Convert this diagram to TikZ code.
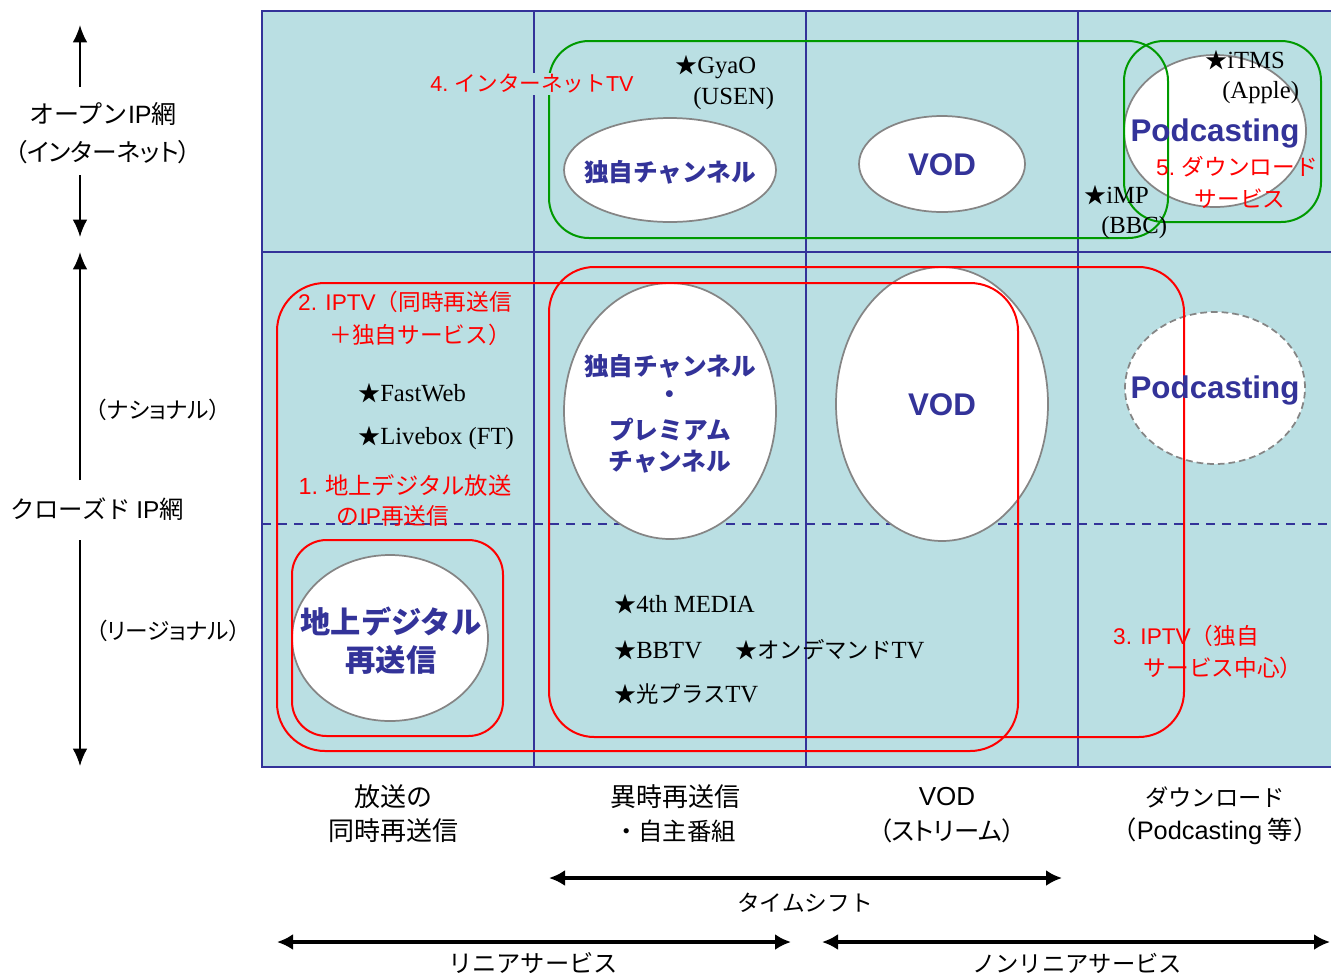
\documentclass[tikz,border=0pt]{standalone}
\usepackage{fontspec}
\setmainfont{Liberation Serif}
\newfontfamily\jp{Noto Sans CJK JP}
\newfontfamily\jpp{Noto Sans CJK JP}[RawFeature=+palt]
\newfontfamily\ar{Liberation Sans}
\usetikzlibrary{arrows.meta,shapes.geometric}
\definecolor{bg}{HTML}{BADFE3}
\definecolor{gridblue}{HTML}{333399}
\definecolor{myred}{HTML}{FF0000}
\definecolor{mygreen}{HTML}{009A00}
\definecolor{elgray}{HTML}{858585}
\newcommand{\fs}[1]{\fontsize{#1}{#1}\selectfont}
\newcommand{\st}{{\jp\fs{16.5}★}}
\newcommand{\sj}[1]{{\jp\fs{16.8}#1}}
\begin{document}
\begin{tikzpicture}[x=0.75pt,y=-0.75pt,
  gridline/.style={draw=gridblue,line width=1.4pt},
  oval/.style={ellipse,draw=elgray,fill=white,line width=1.3pt,inner sep=0pt},
  redbox/.style={draw=myred,line width=1.5pt},
  greenbox/.style={draw=mygreen,line width=1.5pt},
  bluejp/.style={text=gridblue,font=\jp\bfseries\fs{18.5},inner sep=0pt},
  bluebig/.style={text=gridblue,font=\jp\bfseries\fs{22.7},inner sep=0pt},
  bluear/.style={text=gridblue,font=\ar\bfseries\fs{23.5},inner sep=0pt},
  redtxt/.style={text=myred,font=\jp\fs{17},inner sep=1pt},
  startxt/.style={font=\fs{18.5},inner sep=0pt,anchor=west},
  lab/.style={font=\jp\fs{17},inner sep=0pt},
  labs/.style={font=\jpp\fs{17},inner sep=0pt},
  vart/.style={line width=1.5pt,-{Latex[length=13pt,width=11pt]}},
  hart/.style={line width=2.3pt,{Latex[length=12pt,width=12pt]}-{Latex[length=12pt,width=12pt]}}
]
\useasboundingbox (0,0) rectangle (1331,976);
\begin{scope}
\clip (0,0) rectangle (1331,976);
% background grid
\fill[bg] (262,11) rectangle (1345,767);
\draw[gridblue,line width=1.3pt,dashed,dash pattern=on 7pt off 5pt] (262,524) -- (1345,524);
\draw[gridline] (1345,11) -- (262,11) -- (262,767) -- (1345,767);
\draw[gridline] (262,252) -- (1345,252);
\draw[gridline] (534,11) -- (534,767);
\draw[gridline] (806,11) -- (806,767);
\draw[gridline] (1078,11) -- (1078,767);

% ellipses
\node[oval,minimum width=159pt,minimum height=78pt] (e1) at (670,170) {};
\node[oval,minimum width=124.5pt,minimum height=72pt] (e2) at (942,164) {};
\node[oval,minimum width=136.5pt,minimum height=114pt] (e3) at (1215,131) {};
\node[oval,minimum width=159pt,minimum height=192pt] (e4) at (670,411) {};
\node[oval,minimum width=159pt,minimum height=205.5pt] (e5) at (942,404) {};
\node[oval,dashed,dash pattern=on 5pt off 3pt,minimum width=135pt,minimum height=114pt] (e6) at (1215,388) {};
\node[oval,minimum width=147pt,minimum height=124.5pt] (e7) at (390,638) {};

% red and green boxes
\draw[redbox,rounded corners=36pt] (277,283) rectangle (1018,751);
\draw[redbox,rounded corners=34pt] (549,267) rectangle (1184,737);
\draw[redbox,rounded corners=26pt] (292,540) rectangle (503,736);
\draw[greenbox,rounded corners=30pt] (549,41) rectangle (1168,238);
\draw[greenbox,rounded corners=30pt] (1124,41) rectangle (1321,222);

% texts in ellipses
\node[bluejp] (t1) at (670,172) {独自チャンネル};
\node[bluear] (t2) at (942,165) {VOD};
\node[bluear] (t3) at (1215,133) {Podcasting};
\node[bluejp] (t4a) at (670,366) {独自チャンネル};
\node[bluejp] (t4b) at (670,397) {・};
\node[bluejp] (t4c) at (670,430) {プレミアム};
\node[bluejp] (t4d) at (670,462) {チャンネル};
\node[bluear] (t5) at (942,405) {VOD};
\node[bluear] (t6) at (1215,390) {Podcasting};
\node[bluebig] (t7a) at (391,622) {地上デジタル};
\node[bluebig] (t7b) at (391,660) {再送信};

% red labels
\node[redtxt,font=\jp\fs{16.2},fill=bg] (r4) at (532,84) {{\ar 4.} インターネット{\ar TV}};
\node[redtxt] (r5a) at (1237,167) {{\ar 5.} ダウンロード};
\node[redtxt] (r5b) at (1240,199) {サービス};
\node[redtxt] (r2a) at (405,302) {{\ar 2. IPTV}（同時再送信};
\node[redtxt] (r2b) at (420,335) {＋独自サービス）};
\node[redtxt,font=\jp\fs{17.5}] (r1a) at (405,486) {{\ar 1.} 地上デジタル放送};
\node[redtxt] (r1b) at (393,516) {の{\ar IP}再送信};
\node[redtxt] (r3a) at (1186,636) {{\ar 3. IPTV}（独自};
\node[redtxt] (r3b) at (1223,668) {サービス中心）};

% star items
\node[startxt] (s1) at (675,67) {\st GyaO};
\node[startxt] (s1b) at (693,99) {(USEN)};
\node[startxt] (s2) at (1205,60) {\st iTMS};
\node[startxt] (s2b) at (1222,93) {(Apple)};
\node[startxt] (s3) at (1084,195) {\st iMP};
\node[startxt] (s3b) at (1101,228) {(BBC)};
\node[startxt] (s4) at (358,393) {\st FastWeb};
\node[startxt] (s5) at (358,438) {\st Livebox (FT)};
\node[startxt] (s6) at (614,604) {\st 4th MEDIA};
\node[startxt] (s7) at (614,650) {\st BBTV};
\node[startxt] (s8) at (735,650) {\st\sj{オンデマンド}TV};
\node[startxt] (s9) at (614,694) {\st\sj{光プラス}TV};
\end{scope}

% left labels and arrows
\node[lab,font=\jp\fs{18.8}] (open) at (103,114) {オープン{\ar IP}網};
\node[labs,font=\jpp\fs{18.5}] (inet) at (103,152) {（インターネット）};
\node[labs] (nat) at (158,410) {（ナショナル）};
\node[lab,font=\jp\fs{18.3}] (closed) at (97,509) {クローズド {\ar IP}網};
\node[labs] (reg) at (168,631) {（リージョナル）};
\coordinate (a1s) at (80,87);  \coordinate (a1e) at (80,25);
\coordinate (a2s) at (80,175); \coordinate (a2e) at (80,237);
\coordinate (a3s) at (80,480); \coordinate (a3e) at (80,252);
\coordinate (a4s) at (80,540); \coordinate (a4e) at (80,766);
\draw[vart] (a1s) -- (a1e);
\draw[vart] (a2s) -- (a2e);
\draw[vart] (a3s) -- (a3e);
\draw[vart] (a4s) -- (a4e);

% bottom labels
\node[lab,font=\jp\fs{19.5}] (b1a) at (393,797) {放送の};
\node[lab,font=\jp\fs{19.5}] (b1b) at (393,831) {同時再送信};
\node[lab,font=\jp\fs{19.5}] (b2a) at (675,797) {異時再送信};
\node[lab,font=\jp\fs{18.3}] (b2b) at (675,831) {・自主番組};
\node[lab,font=\ar\fs{19.5}] (b3a) at (947,797) {VOD};
\node[labs,font=\jpp\fs{19}] (b3b) at (947,831) {（ストリーム）};
\node[lab,font=\jp\fs{17.5}] (b4a) at (1215,797) {ダウンロード};
\node[lab,font=\jp\fs{19}] (b4b) at (1215,831) {（{\ar Podcasting} 等）};

\coordinate (ts1) at (549,878); \coordinate (ts2) at (1062,878);
\draw[hart] (ts1) -- (ts2);
\node[lab] (tslab) at (805,903) {タイムシフト};
\coordinate (ls1) at (277,942); \coordinate (ls2) at (791,942);
\draw[hart] (ls1) -- (ls2);
\node[lab,font=\jp\fs{18.2}] (lslab) at (533,963) {リニアサービス};
\coordinate (ns1) at (822,942); \coordinate (ns2) at (1330,942);
\draw[hart] (ns1) -- (ns2);
\node[lab,font=\jp\fs{17.5}] (nslab) at (1077,963) {ノンリニアサービス};
\end{tikzpicture}
\end{document}
